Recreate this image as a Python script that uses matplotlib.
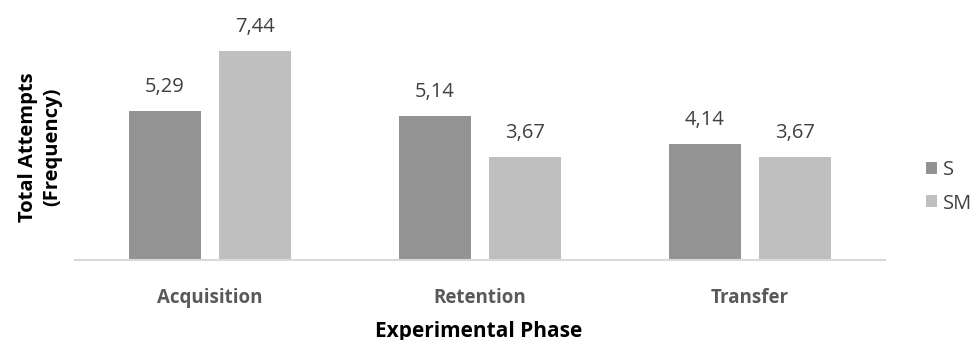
import matplotlib.pyplot as plt
import numpy as np

phases = ["Acquisition", "Retention", "Transfer"]
s_vals = [5.29, 5.14, 4.14]
sm_vals = [7.44, 3.67, 3.67]

plt.rcParams['font.family'] = ['Open Sans', 'DejaVu Sans']

fig = plt.figure(figsize=(9.78, 3.4), dpi=100)
ax = fig.add_axes([75 / 978, 80 / 340, 810 / 978, 250 / 340])

x = np.arange(len(phases))
w = 0.267
b1 = ax.bar(x - 0.167, s_vals, w, color="#939393", label="S")
b2 = ax.bar(x + 0.167, sm_vals, w, color="#bfbfbf", label="SM")

for bars, vals in [(b1, s_vals), (b2, sm_vals)]:
    for r, v in zip(bars, vals):
        ax.text(r.get_x() + r.get_width() / 2, v + 0.5, f"{v:.2f}".replace(".", ","),
                ha="center", va="bottom", fontsize=14.5, color="#404040")

ax.set_xlim(-0.5, 2.5)
ax.set_ylim(0, 8.9)
ax.set_xticks(x)
ax.set_xticklabels(phases, fontsize=13.5, fontweight="bold", color="#595959")
ax.tick_params(axis="x", length=0, pad=20)
ax.set_yticks([])
for sp in ["top", "right", "left"]:
    ax.spines[sp].set_visible(False)
ax.spines["bottom"].set_color("#d9d9d9")
ax.spines["bottom"].set_linewidth(1.5)

fig.text(40 / 978, 1 - 147 / 340, "Total Attempts\n(Frequency)", rotation=90,
         ha="center", va="center", fontsize=14.5, fontweight="bold", linespacing=1.3)
fig.text(479 / 978, 1 - 331 / 340, "Experimental Phase", ha="center", va="center",
         fontsize=15, fontweight="bold")

ax.legend(loc="center left", bbox_to_anchor=(926 / 978, 1 - 187 / 340),
          bbox_transform=fig.transFigure, frameon=False, fontsize=14.5,
          handlelength=0.55, handleheight=0.55, handletextpad=0.3, labelspacing=0.65,
          borderaxespad=0, borderpad=0, labelcolor="#404040")

fig.savefig("out.png", dpi=100)
